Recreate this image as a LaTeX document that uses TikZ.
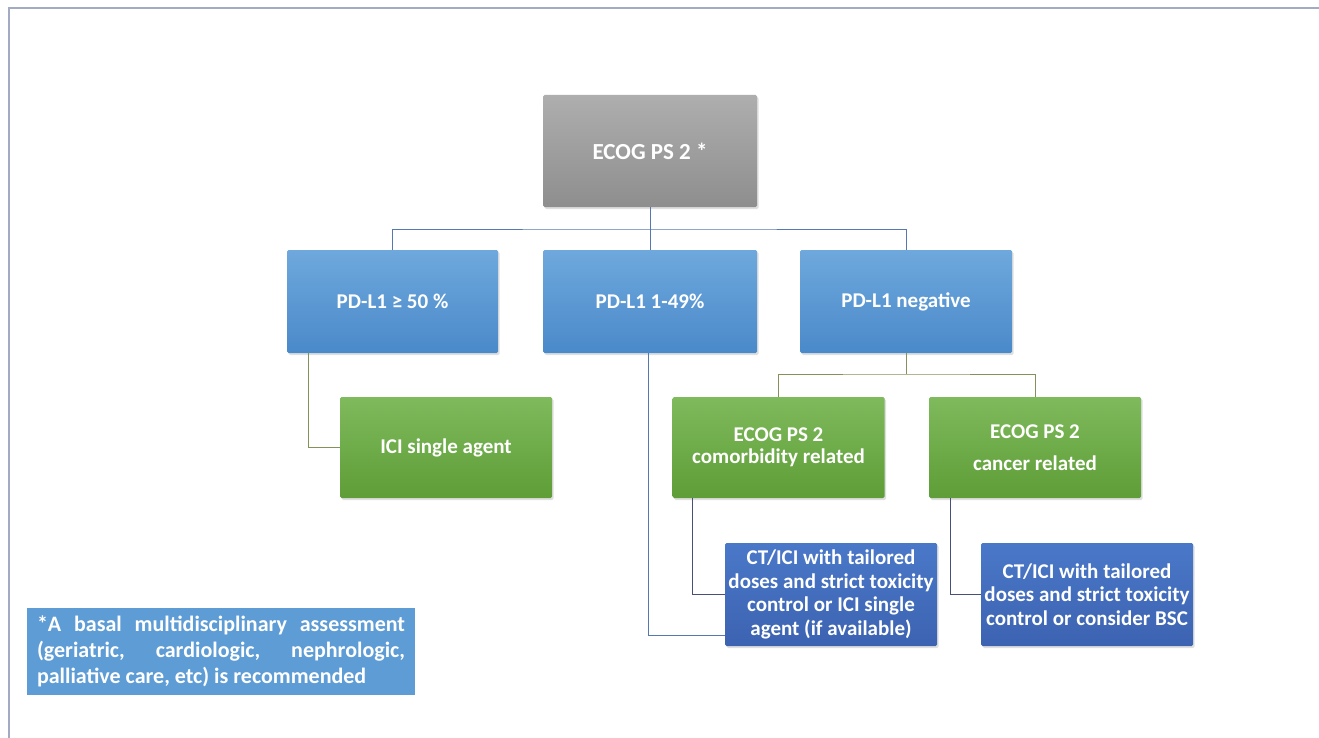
\documentclass[tikz,border=0pt]{standalone}
\usepackage{fontspec}
\setmainfont{Carlito}
\usetikzlibrary{calc,shadows}
\definecolor{framec}{HTML}{A3ABC3}
\definecolor{grayT}{HTML}{AEAEAE}
\definecolor{grayB}{HTML}{8E8E8E}
\definecolor{blueT}{HTML}{6EA8DC}
\definecolor{blueB}{HTML}{4A89CA}
\definecolor{greenT}{HTML}{7FBA5C}
\definecolor{greenB}{HTML}{5E9D37}
\definecolor{dblueT}{HTML}{4A78C8}
\definecolor{dblueB}{HTML}{3C63B1}
\definecolor{noteblue}{HTML}{5E9CD6}
\definecolor{lineblue}{HTML}{5578B0}
\definecolor{lineolive}{HTML}{83925A}
\definecolor{lineslate}{HTML}{46507A}
\tikzset{
  box/.style={rectangle, rounded corners=1.5pt, text=white, align=center,
    font=\bfseries\fontsize{21}{23.5}\selectfont, inner sep=1pt,
    drop shadow={opacity=0.25, shadow xshift=1.5pt, shadow yshift=-2pt}},
  graybox/.style={box, top color=grayT, bottom color=grayB, minimum width=214pt, minimum height=112pt,
    font=\bfseries\fontsize{23}{26}\selectfont},
  bluebox/.style={box, top color=blueT, bottom color=blueB, minimum width=212pt, minimum height=103pt},
  greenbox/.style={box, top color=greenT, bottom color=greenB, minimum width=212pt, minimum height=101pt},
  dbluebox/.style={box, top color=dblueT, bottom color=dblueB, minimum width=212pt, minimum height=103pt},
  bline/.style={draw=lineblue, line width=0.9pt},
  oline/.style={draw=lineolive, line width=0.9pt},
  sline/.style={draw=lineslate, line width=0.9pt},
}
\begin{document}
\begin{tikzpicture}[x=1pt, y=-1pt]
\useasboundingbox (0,0) rectangle (1319,738);
\fill[white] (0,0) rectangle (1319,738);
\draw[framec, line width=2pt] (9,738) -- (9,8) -- (1319,8);

\node[graybox] (ecog) at (650,151) {ECOG PS 2 *};
\node[bluebox, minimum width=211pt] (pd50) at (392.5,301.5) {PD-L1 ≥ 50 \%};
\node[bluebox, minimum width=214pt] (pd149) at (650,301.5) {PD-L1 1-49\%};
\node[bluebox] (pdneg) at (906,301.5) {PD-L1 negative};
\node[greenbox] (ici) at (446,447.5) {ICI single agent};
\node[greenbox, font=\bfseries\fontsize{21}{22.5}\selectfont] (comorb) at (778.5,447.5) {ECOG PS 2\\comorbidity related};
\node[greenbox, font=\bfseries\fontsize{21}{32}\selectfont] (cancer) at (1035,447.5) {ECOG PS 2\\cancer related};
\node[dbluebox] (ct1) at (831,594.5) {CT/ICI with tailored\\doses and strict toxicity\\control or ICI single\\agent (if available)};
\node[dbluebox] (ct2) at (1087,594.5) {CT/ICI with tailored\\doses and strict toxicity\\control or consider BSC};
\node[rectangle, fill=noteblue, text=white, minimum width=388pt, minimum height=87pt,
  text width=368pt, align=justify, inner sep=0pt,
  font=\bfseries\fontsize{22}{26}\selectfont] (note) at (221,651.5)
  {\hyphenpenalty=10000 *A basal multidisciplinary assessment\linebreak (geriatric, cardiologic, nephrologic,\linebreak palliative care, etc) is recommended};

\coordinate (j1) at (650,229);
\coordinate (j2) at (906,374);
\draw[bline] (ecog.south) -- (pd149.north);
\draw[bline] (pd50.north) |- (j1) -| (pdneg.north);
\draw[oline] ($(pd50.south west)+(22,0)$) |- (ici.west);
\draw[oline] (pdneg.south) -- (j2);
\draw[oline] (comorb.north) |- (j2) -| (cancer.north);
\draw[sline] ($(comorb.south west)+(20,0)$) |- (ct1.west);
\draw[sline] ($(cancer.south west)+(22,0)$) |- (ct2.west);
\draw[bline] ($(pd149.south)+(-2,0)$) |- ($(ct1.south west)+(0,-11)$);
\end{tikzpicture}
\end{document}
